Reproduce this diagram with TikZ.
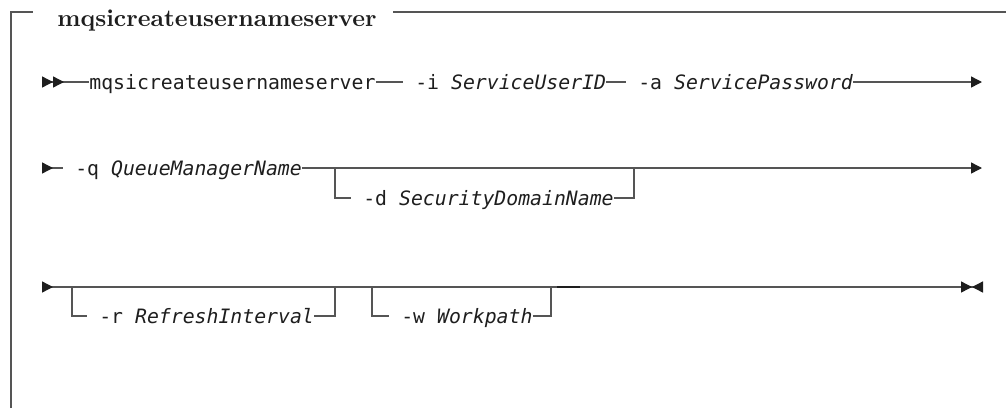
\documentclass[tikz,border=0pt]{standalone}
\usepackage{fontspec}
\usetikzlibrary{arrows.meta}
\newfontfamily\syntaxfont{DejaVu Sans Mono}
\newfontfamily\headfont{lmroman10-bold}[Extension=.otf]
\definecolor{railgray}{RGB}{85,85,85}
\definecolor{inkblack}{RGB}{30,30,30}
\tikzset{
  rail/.style={draw=railgray, line width=0.7pt},
  frameline/.style={draw=railgray, line width=0.8pt},
  railtip/.tip={Triangle[length=5.5pt,width=5.5pt,color=inkblack,fill=inkblack]},
  tok/.style={font=\syntaxfont\fontsize{9.9}{12}\selectfont, text=inkblack,
    inner sep=0pt, text height=10pt, text depth=2.5pt, anchor=west},
  heading/.style={font=\headfont\fontsize{12.1}{14}\selectfont, text=inkblack,
    inner sep=0pt, anchor=base west}
}

\begin{document}
\begin{tikzpicture}[x=0.5pt,y=-0.5pt]
          \useasboundingbox (0,0) rectangle (1006,408);
          % frame
          \node[heading] (title) at (57,26) {mqsicreateusernameserver};
          \draw[frameline] (11,408) -- (11,12) -- (33,12);
          \draw[frameline] (393,12) -- (1006,12);
          % row 1
          \coordinate (start1) at (42,82);
          \coordinate (end1) at (982,82);
          \node[tok] (cmd) at (89,82) {mqsicreateusernameserver};
          \node[tok] (uid) at (403,82) {\hphantom{-}-i \textit{ServiceUserID}};
          \node[tok] (pw) at (626,82) {\hphantom{-}-a \textit{ServicePassword}};
          \draw[rail, {railtip[reversed] railtip[reversed]}-] (start1) -- (cmd.west);
          \draw[rail] (cmd.east) -- (uid.west);
          \draw[rail] (uid.east) -- (pw.west);
          \draw[rail, -railtip] (pw.east) -- (end1);
          % row 2
          \coordinate (start2) at (42,168);
          \coordinate (end2) at (982,168);
          \coordinate (j2a) at (335,168);
          \coordinate (j2b) at (634,168);
          \node[tok] (qm) at (63,168) {\hphantom{-}-q \textit{QueueManagerName}};
          \node[tok] (dom) at (351,198) {\hphantom{-}-d \textit{SecurityDomainName}};
          \draw[rail, {railtip[reversed]}-] (start2) -- (qm.west);
          \draw[rail, -railtip] (qm.east) -- (end2);
          \draw[rail] (j2a) |- (dom.west);
          \draw[rail] (dom.east) -| (j2b);
          % row 3
          \coordinate (start3) at (42,287);
          \coordinate (end3) at (983,287);
          \coordinate (j3a) at (72,287);
          \coordinate (j3b) at (335,287);
          \coordinate (j3c) at (372,287);
          \coordinate (j3d) at (551,287);
          \coordinate (seg-a) at (557,287);
          \coordinate (seg-b) at (580,287);
          \node[tok] (ri) at (87,316) {\hphantom{-}-r \textit{RefreshInterval}};
          \node[tok] (wp) at (389,316) {\hphantom{-}-w \textit{Workpath}};
          \draw[rail, {railtip[reversed]}-{railtip[] railtip[reversed]}] (start3) -- (end3);
          \draw[rail] (j3a) |- (ri.west);
          \draw[rail] (ri.east) -| (j3b);
          \draw[rail] (j3c) |- (wp.west);
          \draw[rail] (wp.east) -| (j3d);
          \draw[rail, draw=inkblack, line width=1.1pt] (seg-a) -- (seg-b);
        \end{tikzpicture}
\end{document}
